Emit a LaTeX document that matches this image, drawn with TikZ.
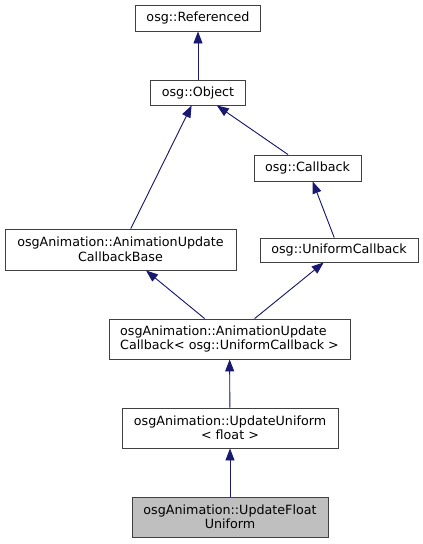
\documentclass[tikz,border=0pt]{standalone}
\usepackage{fontspec}
\setmainfont{DejaVu Sans}
\usetikzlibrary{arrows.meta}
\definecolor{edgeblue}{RGB}{25,25,112}
\definecolor{boxline}{RGB}{64,64,64}
\begin{document}
\begin{tikzpicture}[x=1pt,y=-1pt,
    cls/.style={draw=boxline,fill=white,line width=0.9pt,inner sep=0pt,align=center,
        font=\fontsize{12.7}{14.5}\selectfont},
    inherit/.style={draw=edgeblue,line width=0.9pt,
        -{Triangle[length=12pt,width=9pt]},fill=edgeblue}]
    \useasboundingbox (0,0) rectangle (423,544);
    %% classes
    \node[cls,minimum width=125pt,minimum height=26pt] (referenced) at (198,18) {osg::Referenced};
    \node[cls,minimum width=95pt,minimum height=25pt] (object) at (198,92.5) {osg::Object};
    \node[cls,minimum width=107pt,minimum height=26pt] (callback) at (307.5,168) {osg::Callback};
    \node[cls,minimum width=231pt,minimum height=41pt] (cbbase) at (120.5,249.5)
        {osgAnimation::AnimationUpdate\\CallbackBase};
    \node[cls,minimum width=158pt,minimum height=24pt] (unifcb) at (339,250) {osg::UniformCallback};
    \node[cls,align=left,minimum width=241pt,minimum height=40pt] (animcb) at (229.5,339)
        {osgAnimation::AnimationUpdate\\Callback< osg::UniformCallback >};
    \node[cls,minimum width=216pt,minimum height=40pt] (updunif) at (230,428)
        {osgAnimation::UpdateUniform\\< float >};
    \node[cls,fill=black!25,minimum width=196pt,minimum height=40pt] (floatunif) at (230,517)
        {osgAnimation::UpdateFloat\\Uniform};
    %% inheritance
    \draw[inherit] (object) -- (referenced);
    \draw[inherit] (cbbase) -- (object);
    \draw[inherit] (callback) -- (object);
    \draw[inherit] (unifcb) -- (callback);
    \draw[inherit] (animcb) -- (cbbase);
    \draw[inherit] (animcb) -- (unifcb);
    \draw[inherit] (updunif) -- (animcb);
    \draw[inherit] (floatunif) -- (updunif);
\end{tikzpicture}
\end{document}
